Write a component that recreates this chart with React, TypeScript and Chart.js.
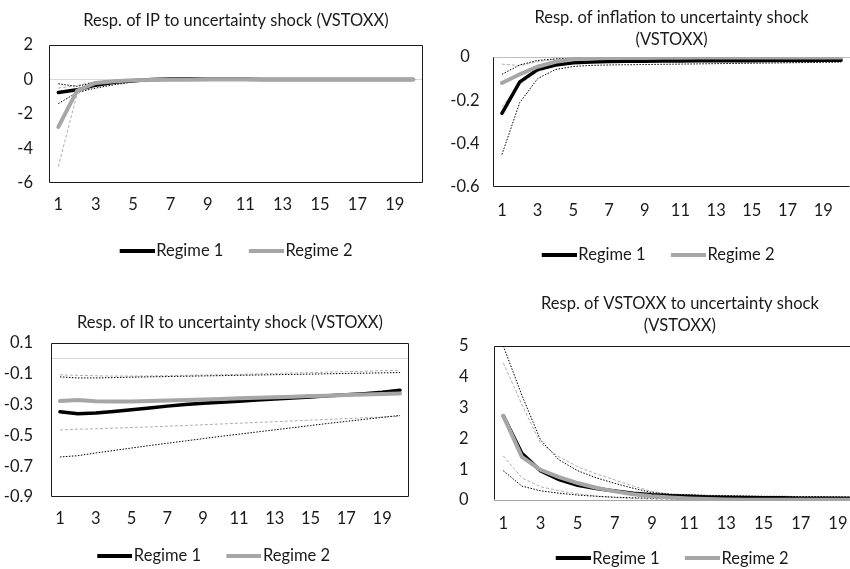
import React, { useEffect, useRef } from 'react';
import { Chart, registerables } from 'chart.js';

Chart.register(...registerables);

// ---------- data ----------
const horizons = ['1','2','3','4','5','6','7','8','9','10','11','12','13','14','15','16','17','18','19','20'];
const legendNames = ['Regime 1', 'Regime 2'];

// IP
const ipTitle = ['Resp. of IP to uncertainty shock (VSTOXX)'];
const ipR1 = [-0.75, -0.6, -0.33, -0.16, -0.07, 0.0, 0.03, 0.03, 0.02, 0.01, 0.01, 0, 0, 0, 0, 0, 0, 0, 0, 0];
const ipR2 = [-2.75, -0.65, -0.2, -0.1, -0.05, -0.03, -0.02, -0.01, 0, 0, 0, 0, 0, 0, 0, 0, 0, 0, 0, 0];
const ipR1Up = [-0.25, -0.4, -0.15, -0.05, 0.0, 0.03, 0.04, 0.04, 0.03, 0.02, 0.01, 0.01, 0.01, 0, 0, 0, 0, 0, 0, 0];
const ipR1Lo = [-1.4, -0.75, -0.5, -0.3, -0.15, -0.07, -0.03, -0.02, -0.01, -0.01, 0, 0, 0, 0, 0, 0, 0, 0, 0, 0];
const ipR2Up = [-0.5, -0.35, -0.12, -0.05, -0.02, -0.01, 0, 0, 0, 0, 0, 0, 0, 0, 0, 0, 0, 0, 0, 0];
const ipR2Lo = [-5.05, -0.85, -0.3, -0.15, -0.08, -0.05, -0.03, -0.02, -0.01, -0.01, 0, 0, 0, 0, 0, 0, 0, 0, 0, 0];
const ipTicks = { min: -6, max: 2, step: 2 };

// Inflation
const infTitle = ['Resp. of inflation to uncertainty shock', '(VSTOXX)'];
const infR1 = [-0.26, -0.115, -0.058, -0.037, -0.027, -0.023, -0.021, -0.02, -0.02, -0.019, -0.019, -0.018, -0.018, -0.017, -0.017, -0.016, -0.016, -0.016, -0.015, -0.015];
const infR2 = [-0.12, -0.08, -0.045, -0.022, -0.011, -0.007, -0.005, -0.004, -0.004, -0.003, -0.003, -0.003, -0.003, -0.002, -0.002, -0.002, -0.002, -0.002, -0.002, -0.002];
const infR1Up = [-0.08, -0.037, -0.016, -0.009, -0.007, -0.006, -0.006, -0.005, -0.005, -0.005, -0.005, -0.005, -0.005, -0.005, -0.005, -0.005, -0.005, -0.005, -0.005, -0.005];
const infR1Lo = [-0.45, -0.21, -0.1, -0.058, -0.044, -0.039, -0.037, -0.036, -0.035, -0.034, -0.033, -0.032, -0.031, -0.03, -0.029, -0.028, -0.027, -0.026, -0.025, -0.024];
const infR2Up = [-0.033, -0.04, -0.022, -0.01, -0.004, -0.002, -0.001, 0, 0, 0, 0, 0, 0, 0, 0, 0, 0, 0, 0, 0];
const infR2Lo = [-0.23, -0.125, -0.068, -0.042, -0.03, -0.025, -0.022, -0.02, -0.019, -0.019, -0.018, -0.018, -0.017, -0.017, -0.016, -0.016, -0.016, -0.015, -0.015, -0.015];
const infTicks = { min: -0.6, max: 0, step: 0.2 };

// Interest rate
const irTitle = ['Resp. of IR to uncertainty shock (VSTOXX)'];
const irR1 = [-0.347, -0.36, -0.355, -0.345, -0.333, -0.322, -0.31, -0.3, -0.292, -0.285, -0.278, -0.271, -0.264, -0.257, -0.25, -0.243, -0.236, -0.229, -0.22, -0.207];
const irR2 = [-0.277, -0.27, -0.278, -0.28, -0.28, -0.277, -0.274, -0.27, -0.267, -0.263, -0.259, -0.256, -0.252, -0.249, -0.245, -0.242, -0.238, -0.235, -0.231, -0.228];
const irR1Up = [-0.12, -0.127, -0.127, -0.125, -0.122, -0.12, -0.118, -0.116, -0.114, -0.112, -0.11, -0.108, -0.106, -0.104, -0.102, -0.1, -0.098, -0.096, -0.094, -0.092];
const irR1Lo = [-0.64, -0.632, -0.614, -0.598, -0.582, -0.566, -0.551, -0.536, -0.521, -0.506, -0.492, -0.478, -0.464, -0.45, -0.436, -0.422, -0.409, -0.396, -0.383, -0.37];
const irR2Up = [-0.107, -0.11, -0.113, -0.115, -0.115, -0.114, -0.112, -0.11, -0.108, -0.106, -0.104, -0.101, -0.098, -0.095, -0.092, -0.089, -0.086, -0.083, -0.08, -0.077];
const irR2Lo = [-0.465, -0.46, -0.457, -0.453, -0.449, -0.445, -0.44, -0.436, -0.431, -0.426, -0.421, -0.416, -0.411, -0.406, -0.401, -0.396, -0.391, -0.386, -0.381, -0.376];
const irTicks = { min: -0.9, max: 0.1, step: 0.2 };

// VSTOXX
const vsTitle = ['Resp. of VSTOXX to uncertainty shock', '(VSTOXX)'];
const vsR1 = [2.73, 1.52, 0.95, 0.66, 0.48, 0.37, 0.29, 0.22, 0.17, 0.14, 0.12, 0.1, 0.09, 0.08, 0.07, 0.07, 0.06, 0.06, 0.06, 0.05];
const vsR2 = [2.73, 1.4, 0.98, 0.74, 0.55, 0.4, 0.28, 0.19, 0.12, 0.08, 0.05, 0.03, 0.02, 0.01, 0.01, 0.01, 0.01, 0.01, 0.01, 0.01];
const vsR1Up = [5.0, 3.4, 1.95, 1.3, 0.95, 0.72, 0.54, 0.38, 0.24, 0.19, 0.17, 0.15, 0.14, 0.13, 0.12, 0.12, 0.11, 0.11, 0.1, 0.1];
const vsR1Lo = [0.95, 0.45, 0.3, 0.22, 0.16, 0.12, 0.09, 0.07, 0.06, 0.05, 0.05, 0.04, 0.04, 0.04, 0.03, 0.03, 0.03, 0.03, 0.03, 0.03];
const vsR2Up = [4.45, 3.1, 1.85, 1.4, 1.08, 0.85, 0.65, 0.45, 0.28, 0.18, 0.13, 0.1, 0.08, 0.07, 0.06, 0.05, 0.05, 0.04, 0.04, 0.04];
const vsR2Lo = [1.43, 0.72, 0.43, 0.3, 0.2, 0.13, 0.08, 0.05, 0.03, 0.02, 0.01, 0, 0, 0, 0, 0, 0, 0, 0, 0];
const vsTicks = { min: 0, max: 5, step: 1 };

// ---------- styling ----------
const BLACK = '#000000';
const GREY = '#A6A6A6';
const BAND_GREY = '#ADADAD';
const TEXT = '#1a1a1a';
const FONT = 'Lato';
const FS = 16.5;

type Sides = { top: boolean; right: boolean; bottom: boolean; left: boolean };
type Spec = {
  left: number; top: number; width: number; height: number;
  title: string[];
  titlePad: { top: number; bottom: number };
  legendFull: boolean;
  padding: { left: number; right: number; top: number; bottom: number };
  yWidth: number; xHeight: number; xPad: number; yPad: number;
  yAlign: 'near' | 'center';
  ticks: { min: number; max: number; step: number };
  r1: number[]; r2: number[]; r1Up: number[]; r1Lo: number[]; r2Up: number[]; r2Lo: number[];
  zeroColor: string;
  sides: Sides;
};

const panels: Spec[] = [
  {
    left: 0, top: 0, width: 425, height: 280, title: ipTitle,
    titlePad: { top: 10, bottom: 12.7 }, legendFull: false,
    padding: { left: 0, right: 1, top: 0, bottom: 11 },
    yWidth: 49, xHeight: 34.5, xPad: 11.5, yPad: 16, yAlign: 'near', ticks: ipTicks,
    r1: ipR1, r2: ipR2, r1Up: ipR1Up, r1Lo: ipR1Lo, r2Up: ipR2Up, r2Lo: ipR2Lo,
    zeroColor: '#D9D9D9', sides: { top: true, right: true, bottom: true, left: true },
  },
  {
    left: 425, top: 0, width: 430, height: 280, title: infTitle,
    titlePad: { top: 6.35, bottom: 6.05 }, legendFull: true,
    padding: { left: 38, right: 2, top: 0, bottom: 6.75 },
    yWidth: 30, xHeight: 34.75, xPad: 13.8, yPad: 13.5, yAlign: 'center', ticks: infTicks,
    r1: infR1, r2: infR2, r1Up: infR1Up, r1Lo: infR1Lo, r2Up: infR2Up, r2Lo: infR2Lo,
    zeroColor: '#BFBFBF', sides: { top: false, right: false, bottom: true, left: true },
  },
  {
    left: 0, top: 280, width: 425, height: 300, title: irTitle,
    titlePad: { top: 31.85, bottom: 8.85 }, legendFull: true,
    padding: { left: 18, right: 16, top: 0, bottom: 5.75 },
    yWidth: 33, xHeight: 25.75, xPad: 12.1, yPad: 18, yAlign: 'near', ticks: irTicks,
    r1: irR1, r2: irR2, r1Up: irR1Up, r1Lo: irR1Lo, r2Up: irR2Up, r2Lo: irR2Lo,
    zeroColor: '#D9D9D9', sides: { top: true, right: true, bottom: true, left: true },
  },
  {
    left: 425, top: 280, width: 445, height: 300, title: vsTitle,
    titlePad: { top: 12.15, bottom: 9.25 }, legendFull: true,
    padding: { left: 51, right: 2, top: 0, bottom: 3.45 },
    yWidth: 18, xHeight: 25.05, xPad: 13.4, yPad: 25.5, yAlign: 'near', ticks: vsTicks,
    r1: vsR1, r2: vsR2, r1Up: vsR1Up, r1Lo: vsR1Lo, r2Up: vsR2Up, r2Lo: vsR2Lo,
    zeroColor: '#A6A6A6', sides: { top: true, right: false, bottom: false, left: true },
  },
];

// legend marker: a 35px bar, placed so the text follows it closely
function makeLegendLine(color: string) {
  const c = document.createElement('canvas');
  c.width = 42;
  c.height = 4;
  const g = c.getContext('2d');
  if (g) {
    g.fillStyle = color;
    g.fillRect(7, 0, 35, 4);
  }
  return c;
}

function makeFramePlugin(spec: Spec) {
  return {
    id: 'frame',
    beforeDraw(chart: any) {
      // let tick labels use the whole canvas instead of being clipped to the (narrow) axis boxes
      chart.scales.y.left = 0;
      chart.scales.x.bottom = chart.height;
    },
    beforeDatasetsDraw(chart: any) {
      const { ctx, chartArea: a, scales } = chart;
      const y = scales.y;
      ctx.save();
      ctx.lineWidth = 1;
      const zy = Math.round(y.getPixelForValue(0)) + 0.5;
      ctx.strokeStyle = spec.zeroColor;
      ctx.beginPath();
      ctx.moveTo(a.left, zy);
      ctx.lineTo(a.right, zy);
      ctx.stroke();
      ctx.strokeStyle = '#1a1a1a';
      const l = Math.round(a.left) + 0.5;
      const r = Math.round(a.right) - 0.5;
      const t = Math.round(a.top) + 0.5;
      const b = Math.round(a.bottom) - 0.5;
      ctx.beginPath();
      if (spec.sides.top) { ctx.moveTo(l, t); ctx.lineTo(r, t); }
      if (spec.sides.right) { ctx.moveTo(r, t); ctx.lineTo(r, b); }
      if (spec.sides.bottom) { ctx.moveTo(l, b); ctx.lineTo(r, b); }
      if (spec.sides.left) { ctx.moveTo(l, t); ctx.lineTo(l, b); }
      ctx.stroke();
      ctx.restore();
    },
  };
}

function Panel({ spec }: { spec: Spec }) {
  const ref = useRef<HTMLCanvasElement | null>(null);
  useEffect(() => {
    if (!ref.current) return;
    const blackMark = makeLegendLine(BLACK);
    const greyMark = makeLegendLine(GREY);
    const band = (data: number[], color: string, dash: number[]) => ({
      label: '', data, borderColor: color, backgroundColor: color, borderWidth: 1,
      borderDash: dash, pointRadius: 0, tension: 0, fill: false, order: 2,
    });
    const chart = new Chart(ref.current, {
      type: 'line',
      data: {
        labels: horizons,
        datasets: [
          { label: legendNames[1], data: spec.r2, borderColor: GREY, backgroundColor: GREY, borderWidth: 4, pointRadius: 0, tension: 0, fill: false, order: 0, borderCapStyle: 'round' },
          { label: legendNames[0], data: spec.r1, borderColor: BLACK, backgroundColor: BLACK, borderWidth: 3.5, pointRadius: 0, tension: 0, fill: false, order: 1, borderCapStyle: 'round' },
          band(spec.r1Up, BLACK, [1.5, 1.5]),
          band(spec.r1Lo, BLACK, [1.5, 1.5]),
          band(spec.r2Up, BAND_GREY, [3, 2]),
          band(spec.r2Lo, BAND_GREY, [3, 2]),
        ] as any,
      },
      options: {
        responsive: false,
        animation: false,
        devicePixelRatio: 1,
        layout: { padding: spec.padding },
        events: [],
        plugins: {
          tooltip: { enabled: false },
          title: {
            display: true,
            text: spec.title,
            fullSize: false,
            color: TEXT,
            font: { family: FONT, size: FS, weight: 'normal', lineHeight: 1.35 },
            padding: spec.titlePad,
          },
          legend: {
            display: true,
            position: 'bottom',
            fullSize: spec.legendFull,
            labels: {
              color: TEXT,
              font: { family: FONT, size: FS },
              usePointStyle: true,
              pointStyleWidth: 28.75,
              boxHeight: 4,
              padding: 25,
              generateLabels: () => [
                { text: legendNames[0], fillStyle: BLACK, strokeStyle: BLACK, lineWidth: 0, hidden: false, datasetIndex: 1, fontColor: TEXT, pointStyle: blackMark },
                { text: legendNames[1], fillStyle: GREY, strokeStyle: GREY, lineWidth: 0, hidden: false, datasetIndex: 0, fontColor: TEXT, pointStyle: greyMark },
              ],
            },
          },
        },
        scales: {
          x: {
            type: 'category',
            offset: true,
            grid: { display: false, drawTicks: false },
            border: { display: false },
            ticks: {
              color: TEXT,
              font: { family: FONT, size: FS },
              autoSkip: false,
              maxRotation: 0,
              padding: spec.xPad,
              callback: (_v: any, i: number) => (i % 2 === 0 ? horizons[i] : ''),
            },
            afterFit: (s: any) => { s.height = spec.xHeight; },
          },
          y: {
            type: 'linear',
            min: spec.ticks.min,
            max: spec.ticks.max,
            grid: { display: false, drawTicks: false },
            border: { display: false },
            ticks: {
              color: TEXT,
              font: { family: FONT, size: FS },
              stepSize: spec.ticks.step,
              padding: spec.yPad,
              crossAlign: spec.yAlign,
            },
            afterFit: (s: any) => { s.width = spec.yWidth; },
          },
        },
      } as any,
      plugins: [makeFramePlugin(spec)],
    });
    return () => chart.destroy();
  }, [spec]);
  return (
    <canvas
      ref={ref}
      width={spec.width}
      height={spec.height}
      style={{ position: 'absolute', left: spec.left, top: spec.top, width: spec.width, height: spec.height }}
    />
  );
}

export default function App() {
  return (
    <div style={{ position: 'absolute', left: 0, top: 0, width: 850, height: 569, overflow: 'hidden', background: '#ffffff' }}>
      {panels.map((p, i) => (
        <Panel key={i} spec={p} />
      ))}
    </div>
  );
}
